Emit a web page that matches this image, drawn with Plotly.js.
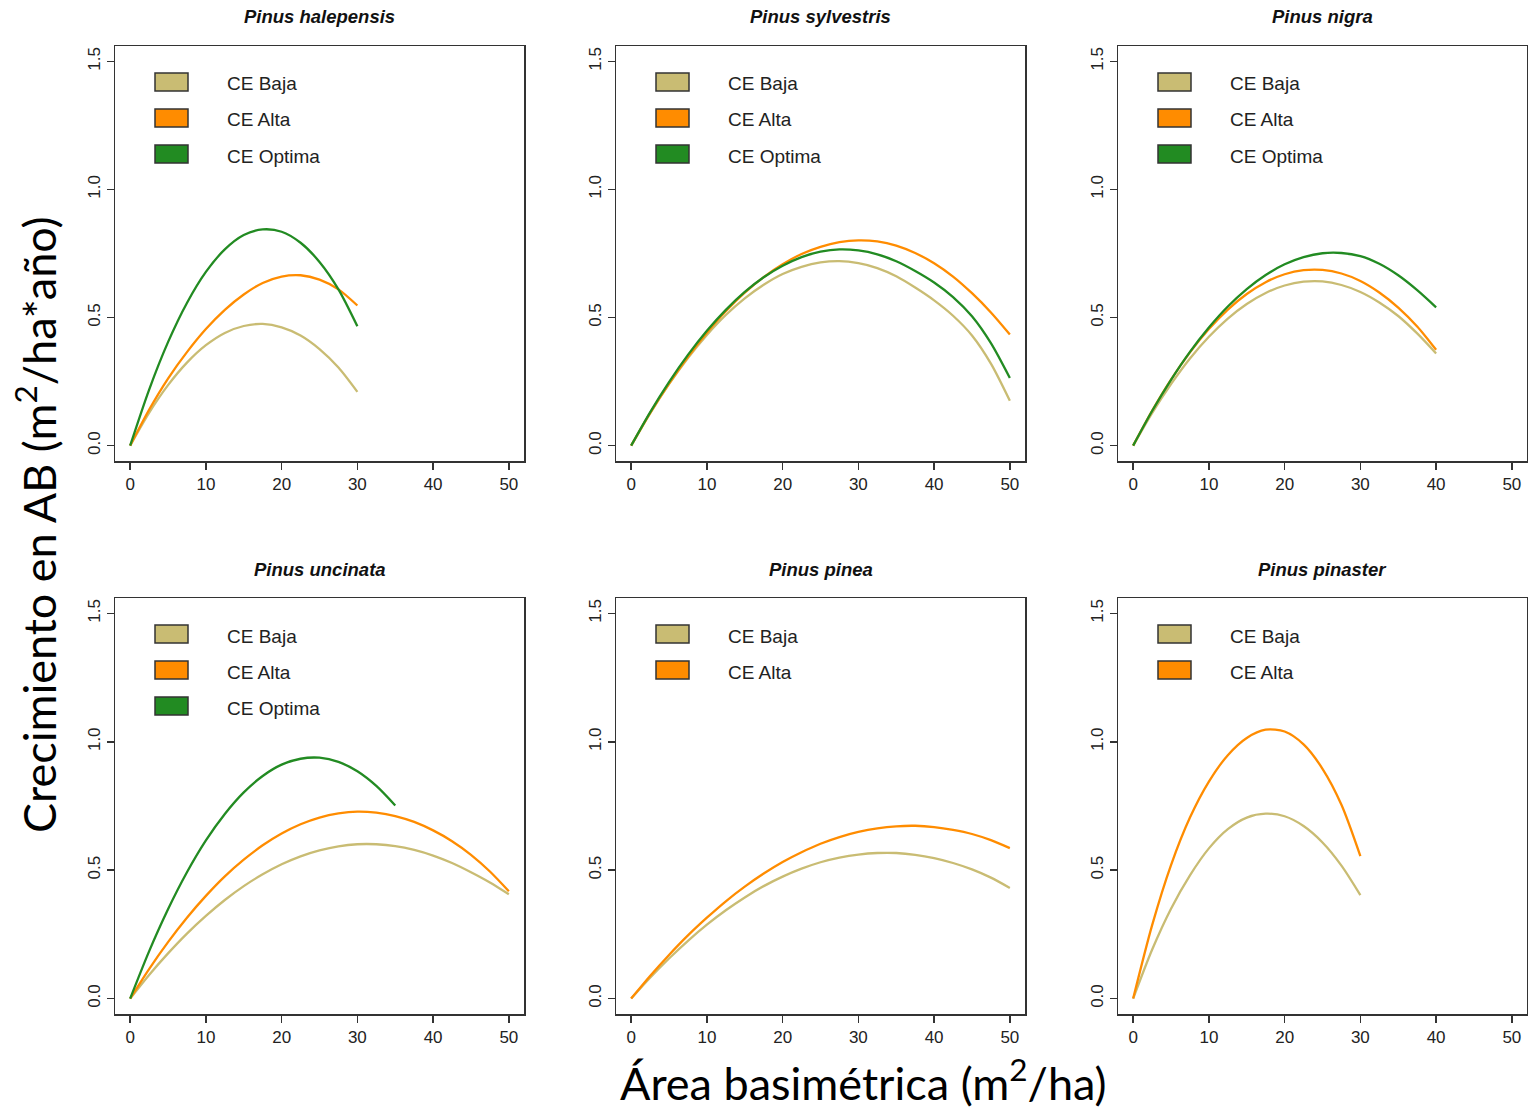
<!DOCTYPE html>
<html>
<head>
<meta charset="utf-8">
<script src="https://cdn.plot.ly/plotly-3.0.1.min.js"></script>
<style>html,body{margin:0;padding:0;background:#fff;}#chart{width:1528px;height:1109px;}</style>
</head>
<body>
<div id="chart"></div>
<script>
// ---- data ----
const species = ["Pinus halepensis", "Pinus sylvestris", "Pinus nigra", "Pinus uncinata", "Pinus pinea", "Pinus pinaster"];
const seriesNames = ["CE Baja", "CE Alta", "CE Optima"];
const xTicks = [0, 10, 20, 30, 40, 50];
const yTicks = [0, 0.5, 1.0, 1.5];

const x30 = [0, 2.5, 5, 7.5, 10, 12.5, 15, 17.5, 20, 22.5, 25, 27.5, 30];
const x35 = [0, 2.5, 5, 7.5, 10, 12.5, 15, 17.5, 20, 22.5, 25, 27.5, 30, 32.5, 35];
const x40 = [0, 2.5, 5, 7.5, 10, 12.5, 15, 17.5, 20, 22.5, 25, 27.5, 30, 32.5, 35, 37.5, 40];
const x50 = [0, 2.5, 5, 7.5, 10, 12.5, 15, 17.5, 20, 22.5, 25, 27.5, 30, 32.5, 35, 37.5, 40, 42.5, 45, 47.5, 50];

// Pinus halepensis (x30)
const halepensisBaja   = [0, 0.128, 0.236, 0.324, 0.392, 0.440, 0.467, 0.475, 0.462, 0.430, 0.377, 0.305, 0.210];
const halepensisAlta   = [0, 0.140, 0.262, 0.365, 0.455, 0.530, 0.590, 0.635, 0.660, 0.665, 0.648, 0.610, 0.547];
const halepensisOptima = [0, 0.218, 0.404, 0.557, 0.678, 0.766, 0.822, 0.844, 0.835, 0.792, 0.717, 0.610, 0.466];

// Pinus sylvestris (x50)
const sylvestrisBaja   = [0, 0.126, 0.240, 0.342, 0.432, 0.510, 0.575, 0.628, 0.670, 0.698, 0.715, 0.720, 0.712, 0.693, 0.661, 0.617, 0.567, 0.507, 0.430, 0.320, 0.175];
const sylvestrisAlta   = [0, 0.127, 0.242, 0.347, 0.441, 0.525, 0.597, 0.658, 0.708, 0.748, 0.776, 0.794, 0.801, 0.797, 0.781, 0.752, 0.712, 0.660, 0.595, 0.520, 0.434];
const sylvestrisOptima = [0, 0.130, 0.248, 0.354, 0.448, 0.530, 0.600, 0.657, 0.702, 0.736, 0.757, 0.766, 0.762, 0.747, 0.720, 0.682, 0.637, 0.580, 0.505, 0.400, 0.264];

// Pinus nigra (x40)
const nigraBaja   = [0, 0.127, 0.240, 0.340, 0.425, 0.496, 0.553, 0.596, 0.625, 0.640, 0.641, 0.627, 0.600, 0.559, 0.506, 0.438, 0.360];
const nigraAlta   = [0, 0.136, 0.258, 0.364, 0.455, 0.531, 0.592, 0.638, 0.669, 0.685, 0.686, 0.672, 0.643, 0.598, 0.539, 0.465, 0.374];
const nigraOptima = [0, 0.135, 0.257, 0.366, 0.461, 0.543, 0.611, 0.666, 0.708, 0.736, 0.751, 0.752, 0.740, 0.710, 0.665, 0.607, 0.540];

// Pinus uncinata (x50, optima x35)
const uncinataBaja   = [0, 0.092, 0.176, 0.253, 0.322, 0.384, 0.438, 0.484, 0.523, 0.554, 0.577, 0.593, 0.601, 0.601, 0.594, 0.579, 0.557, 0.528, 0.492, 0.452, 0.406];
const uncinataAlta   = [0, 0.115, 0.220, 0.315, 0.400, 0.476, 0.541, 0.597, 0.643, 0.679, 0.705, 0.721, 0.728, 0.724, 0.711, 0.688, 0.655, 0.613, 0.560, 0.495, 0.418];
const uncinataOptima = [0, 0.184, 0.348, 0.492, 0.616, 0.719, 0.803, 0.867, 0.911, 0.934, 0.938, 0.922, 0.885, 0.828, 0.752];

// Pinus pinea (x50)
const pineaBaja = [0, 0.081, 0.156, 0.225, 0.288, 0.344, 0.394, 0.438, 0.475, 0.506, 0.531, 0.549, 0.561, 0.567, 0.567, 0.560, 0.547, 0.528, 0.503, 0.471, 0.431];
const pineaAlta = [0, 0.088, 0.170, 0.246, 0.315, 0.379, 0.436, 0.487, 0.532, 0.570, 0.603, 0.629, 0.649, 0.663, 0.671, 0.673, 0.668, 0.657, 0.641, 0.617, 0.586];

// Pinus pinaster (x30)
const pinasterBaja = [0, 0.190, 0.350, 0.480, 0.585, 0.660, 0.705, 0.720, 0.710, 0.672, 0.608, 0.518, 0.403];
const pinasterAlta = [0, 0.285, 0.520, 0.705, 0.845, 0.948, 1.015, 1.047, 1.040, 0.990, 0.895, 0.755, 0.555];

// ---- styling ----
const colBaja = "#C9BC73", colAlta = "#FF8C00", colOptima = "#228B22";
const legendColors = [colBaja, colAlta, colOptima];

const panels = [
  {title: species[0], series: [[x30, halepensisBaja, colBaja], [x30, halepensisAlta, colAlta], [x30, halepensisOptima, colOptima]], nLeg: 3},
  {title: species[1], series: [[x50, sylvestrisBaja, colBaja], [x50, sylvestrisAlta, colAlta], [x50, sylvestrisOptima, colOptima]], nLeg: 3},
  {title: species[2], series: [[x40, nigraBaja, colBaja], [x40, nigraAlta, colAlta], [x40, nigraOptima, colOptima]], nLeg: 3},
  {title: species[3], series: [[x50, uncinataBaja, colBaja], [x50, uncinataAlta, colAlta], [x35, uncinataOptima, colOptima]], nLeg: 3},
  {title: species[4], series: [[x50, pineaBaja, colBaja], [x50, pineaAlta, colAlta]], nLeg: 2},
  {title: species[5], series: [[x30, pinasterBaja, colBaja], [x30, pinasterAlta, colAlta]], nLeg: 2}
];

const W = 1528, H = 1109;
const colPx = [[115, 524], [616, 1025], [1118, 1527]];
const rowPx = [[46, 461], [598, 1014]];

const traces = [];
const layout = {
  width: W, height: H,
  margin: {l: 0, r: 0, t: 0, b: 0},
  paper_bgcolor: "#fff", plot_bgcolor: "#fff",
  showlegend: false,
  font: {family: "Liberation Sans, Arial, sans-serif", color: "#222"},
  shapes: [], annotations: []
};

const tickFont = {family: "Liberation Sans, Arial, sans-serif", size: 17, color: "#222"};

panels.forEach((p, i) => {
  const r = Math.floor(i / 3), c = i % 3;
  const sfx = i === 0 ? "" : String(i + 1);
  const xa = "x" + sfx, ya = "y" + sfx;
  const xd = [colPx[c][0] / W, colPx[c][1] / W];
  const yd = [1 - rowPx[r][1] / H, 1 - rowPx[r][0] / H];
  layout["xaxis" + sfx] = {
    domain: xd, anchor: ya, range: [-2, 52],
    tickmode: "array", tickvals: xTicks, ticktext: xTicks.map(String),
    ticks: "outside", ticklen: 7, tickwidth: 1.5, tickcolor: "#333",
    showline: true, linecolor: "#333", linewidth: 1.5, mirror: true,
    showgrid: false, zeroline: false, tickfont: tickFont, fixedrange: true
  };
  layout["yaxis" + sfx] = {
    domain: yd, anchor: xa, range: [-0.06, 1.56],
    tickmode: "array", tickvals: yTicks, ticktext: yTicks.map(v => v.toFixed(1)),
    tickangle: -90,
    ticks: "outside", ticklen: 7, tickwidth: 1.5, tickcolor: "#333",
    showline: true, linecolor: "#333", linewidth: 1.5, mirror: true,
    showgrid: false, zeroline: false, tickfont: tickFont, fixedrange: true
  };
  p.series.forEach(s => {
    traces.push({
      x: s[0], y: s[1], xaxis: xa, yaxis: ya, type: "scatter", mode: "lines",
      line: {color: s[2], width: 2.3, shape: "spline", smoothing: 0.8},
      hoverinfo: "skip", showlegend: false
    });
  });
  // panel title
  layout.annotations.push({
    xref: "paper", yref: "paper",
    x: (colPx[c][0] + colPx[c][1]) / 2 / W, y: 1 - (rowPx[r][0] - 29) / H,
    xanchor: "center", yanchor: "middle", showarrow: false,
    text: "<b><i>" + p.title + "</i></b>",
    font: {family: "Liberation Sans, Arial, sans-serif", size: 18.5, color: "#111"}
  });
  // in-panel legend
  const ph = rowPx[r][1] - rowPx[r][0], pw = colPx[c][1] - colPx[c][0];
  for (let k = 0; k < p.nLeg; k++) {
    const top = 27 + 36 * k;
    layout.shapes.push({
      type: "rect", xref: xa + " domain", yref: ya + " domain",
      x0: 40 / pw, x1: 73 / pw, y0: 1 - (top + 18) / ph, y1: 1 - top / ph,
      fillcolor: legendColors[k], line: {color: "#333", width: 1.5}
    });
    layout.annotations.push({
      xref: xa + " domain", yref: ya + " domain",
      x: 110 / pw, y: 1 - (top + 11) / ph, xanchor: "left", yanchor: "middle",
      showarrow: false, text: seriesNames[k],
      font: {family: "Liberation Sans, Arial, sans-serif", size: 19, color: "#222"}
    });
  }
});

// global axis titles
layout.annotations.push({
  xref: "paper", yref: "paper", x: 36 / W, y: 1 - 525 / H,
  xanchor: "center", yanchor: "middle", textangle: -90, showarrow: false,
  text: "Crecimiento en AB (m<sup>2</sup>/ha*año)",
  font: {family: "Lato, sans-serif", size: 45, color: "#000"}
});
layout.annotations.push({
  xref: "paper", yref: "paper", x: 863 / W, y: 1 - 1080 / H,
  xanchor: "center", yanchor: "middle", showarrow: false,
  text: "Área basimétrica (m<sup>2</sup>/ha)",
  font: {family: "Lato, sans-serif", size: 45, color: "#000"}
});

Plotly.newPlot("chart", traces, layout, {displayModeBar: false, staticPlot: true});
</script>
</body>
</html>
